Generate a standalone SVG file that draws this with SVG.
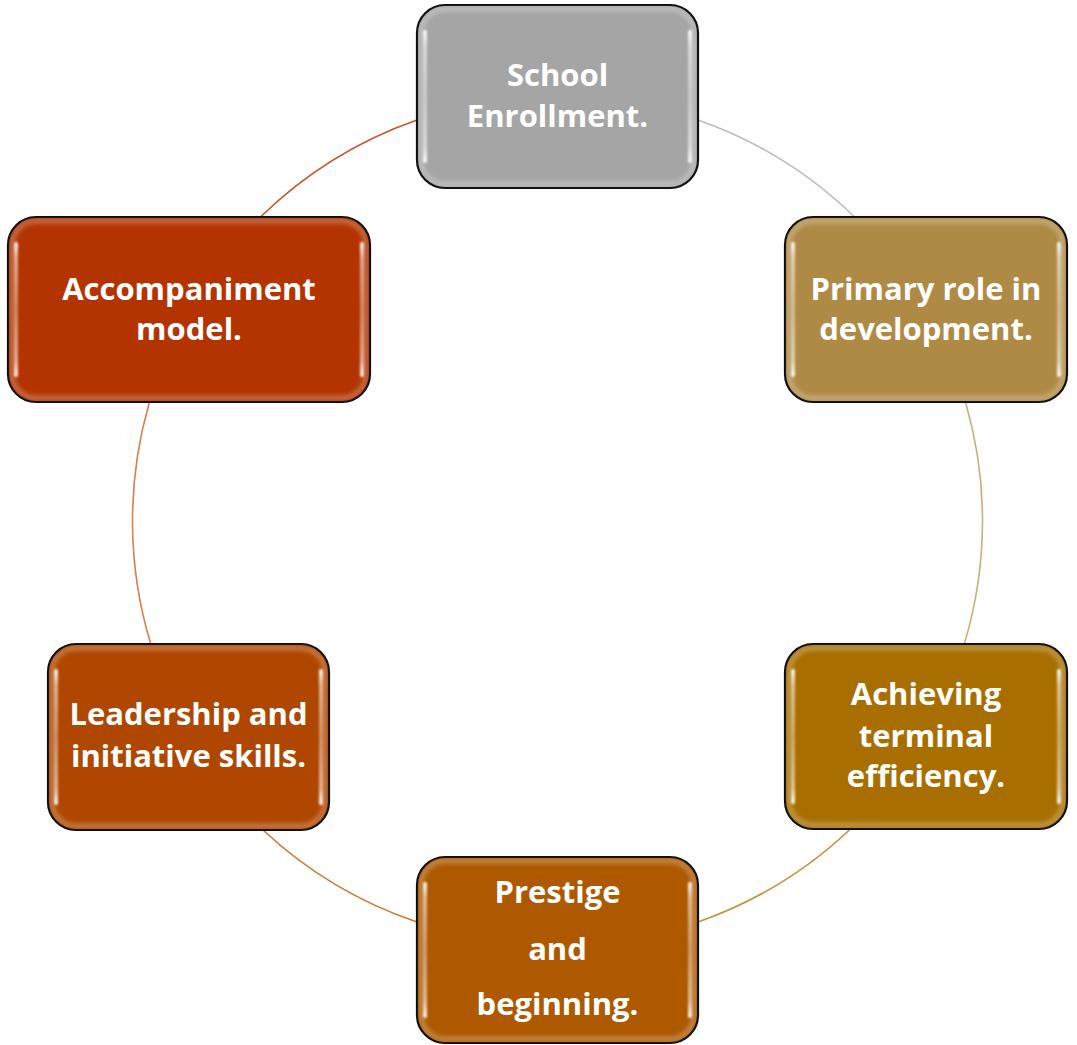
<svg xmlns="http://www.w3.org/2000/svg" width="1077" height="1045" viewBox="0 0 1077 1045">
<style>
.box{stroke:#000;stroke-width:2.2}
.glow{fill:none;stroke:#fff;stroke-opacity:0.28;stroke-width:5;filter:url(#blur)}
.hl{fill:url(#hlg)}
.lbl{font-family:"Open Sans",Lato,sans-serif;font-weight:bold;font-size:31px;fill:#fff;text-anchor:middle;font-variant-ligatures:none}
.arc{fill:none;stroke-width:1.6}
</style>
<defs>
<filter id="blur" x="-10%" y="-10%" width="120%" height="120%"><feGaussianBlur stdDeviation="2"/></filter>
<filter id="blur1" x="-50%" y="-10%" width="200%" height="120%"><feGaussianBlur stdDeviation="0.8"/></filter>
<linearGradient id="hlg" x1="0" y1="0" x2="0" y2="1">
<stop offset="0" stop-color="#fff" stop-opacity="0.95"/>
<stop offset="0.12" stop-color="#fff" stop-opacity="0.55"/>
<stop offset="0.5" stop-color="#fff" stop-opacity="0.35"/>
<stop offset="0.88" stop-color="#fff" stop-opacity="0.55"/>
<stop offset="1" stop-color="#fff" stop-opacity="0.95"/>
</linearGradient>
</defs>
<g id="connectors">
<path class="arc" stroke="#BDBDBD" d="M698 120 A425 425 0 0 1 854.5 217"/>
<path class="arc" stroke="#CBAE78" d="M965.5 402 A425 425 0 0 1 964.3 644"/>
<path class="arc" stroke="#C0923A" d="M850.4 829 A425 425 0 0 1 698 922"/>
<path class="arc" stroke="#C97B30" d="M417 922 A425 425 0 0 1 263 830"/>
<path class="arc" stroke="#D4804F" d="M150.7 644 A425 425 0 0 1 149.2 403"/>
<path class="arc" stroke="#C8562A" d="M260.5 217 A425 425 0 0 1 417 120"/>
</g>
<g id="school">
<rect class="box" x="417" y="5" width="281" height="183" rx="28" fill="#A5A5A5"/>
<rect class="glow" x="421" y="9" width="273" height="175" rx="24"/>
<rect class="hl" x="423" y="30" width="4" height="133" rx="2" filter="url(#blur1)"/>
<rect class="hl" x="688" y="30" width="4" height="133" rx="2" filter="url(#blur1)"/>
<text class="lbl" x="557.5" y="86">School</text>
<text class="lbl" x="557.5" y="127">Enrollment.</text>
</g>
<g id="primary">
<rect class="box" x="785" y="217" width="282" height="185" rx="28" fill="#AF8A45"/>
<rect class="glow" x="789" y="221" width="274" height="177" rx="24"/>
<rect class="hl" x="791" y="242" width="4" height="135" rx="2" filter="url(#blur1)"/>
<rect class="hl" x="1057" y="242" width="4" height="135" rx="2" filter="url(#blur1)"/>
<text class="lbl" x="926" y="300">Primary role in</text>
<text class="lbl" x="926" y="340">development.</text>
</g>
<g id="achieving">
<rect class="box" x="785" y="644" width="282" height="185" rx="28" fill="#A86F00"/>
<rect class="glow" x="789" y="648" width="274" height="177" rx="24"/>
<rect class="hl" x="791" y="669" width="4" height="135" rx="2" filter="url(#blur1)"/>
<rect class="hl" x="1057" y="669" width="4" height="135" rx="2" filter="url(#blur1)"/>
<text class="lbl" x="926" y="705">Achieving</text>
<text class="lbl" x="926" y="747">terminal</text>
<text class="lbl" x="926" y="787">efficiency.</text>
</g>
<g id="prestige">
<rect class="box" x="417" y="857" width="281" height="186" rx="28" fill="#AE5900"/>
<rect class="glow" x="421" y="861" width="273" height="178" rx="24"/>
<rect class="hl" x="423" y="882" width="4" height="136" rx="2" filter="url(#blur1)"/>
<rect class="hl" x="688" y="882" width="4" height="136" rx="2" filter="url(#blur1)"/>
<text class="lbl" x="557.5" y="903">Prestige</text>
<text class="lbl" x="557.5" y="960">and</text>
<text class="lbl" x="557.5" y="1015">beginning.</text>
</g>
<g id="leadership">
<rect class="box" x="48" y="644" width="281" height="186" rx="28" fill="#B04700"/>
<rect class="glow" x="52" y="648" width="273" height="178" rx="24"/>
<rect class="hl" x="54" y="669" width="4" height="136" rx="2" filter="url(#blur1)"/>
<rect class="hl" x="319" y="669" width="4" height="136" rx="2" filter="url(#blur1)"/>
<text class="lbl" x="188.5" y="725">Leadership and</text>
<text class="lbl" x="188.5" y="767">initiative skills.</text>
</g>
<g id="accompaniment">
<rect class="box" x="8" y="217" width="362" height="185" rx="28" fill="#B33400"/>
<rect class="glow" x="12" y="221" width="354" height="177" rx="24"/>
<rect class="hl" x="14" y="242" width="4" height="135" rx="2" filter="url(#blur1)"/>
<rect class="hl" x="360" y="242" width="4" height="135" rx="2" filter="url(#blur1)"/>
<text class="lbl" x="189" y="300">Accompaniment</text>
<text class="lbl" x="189" y="340">model.</text>
</g>
</svg>
